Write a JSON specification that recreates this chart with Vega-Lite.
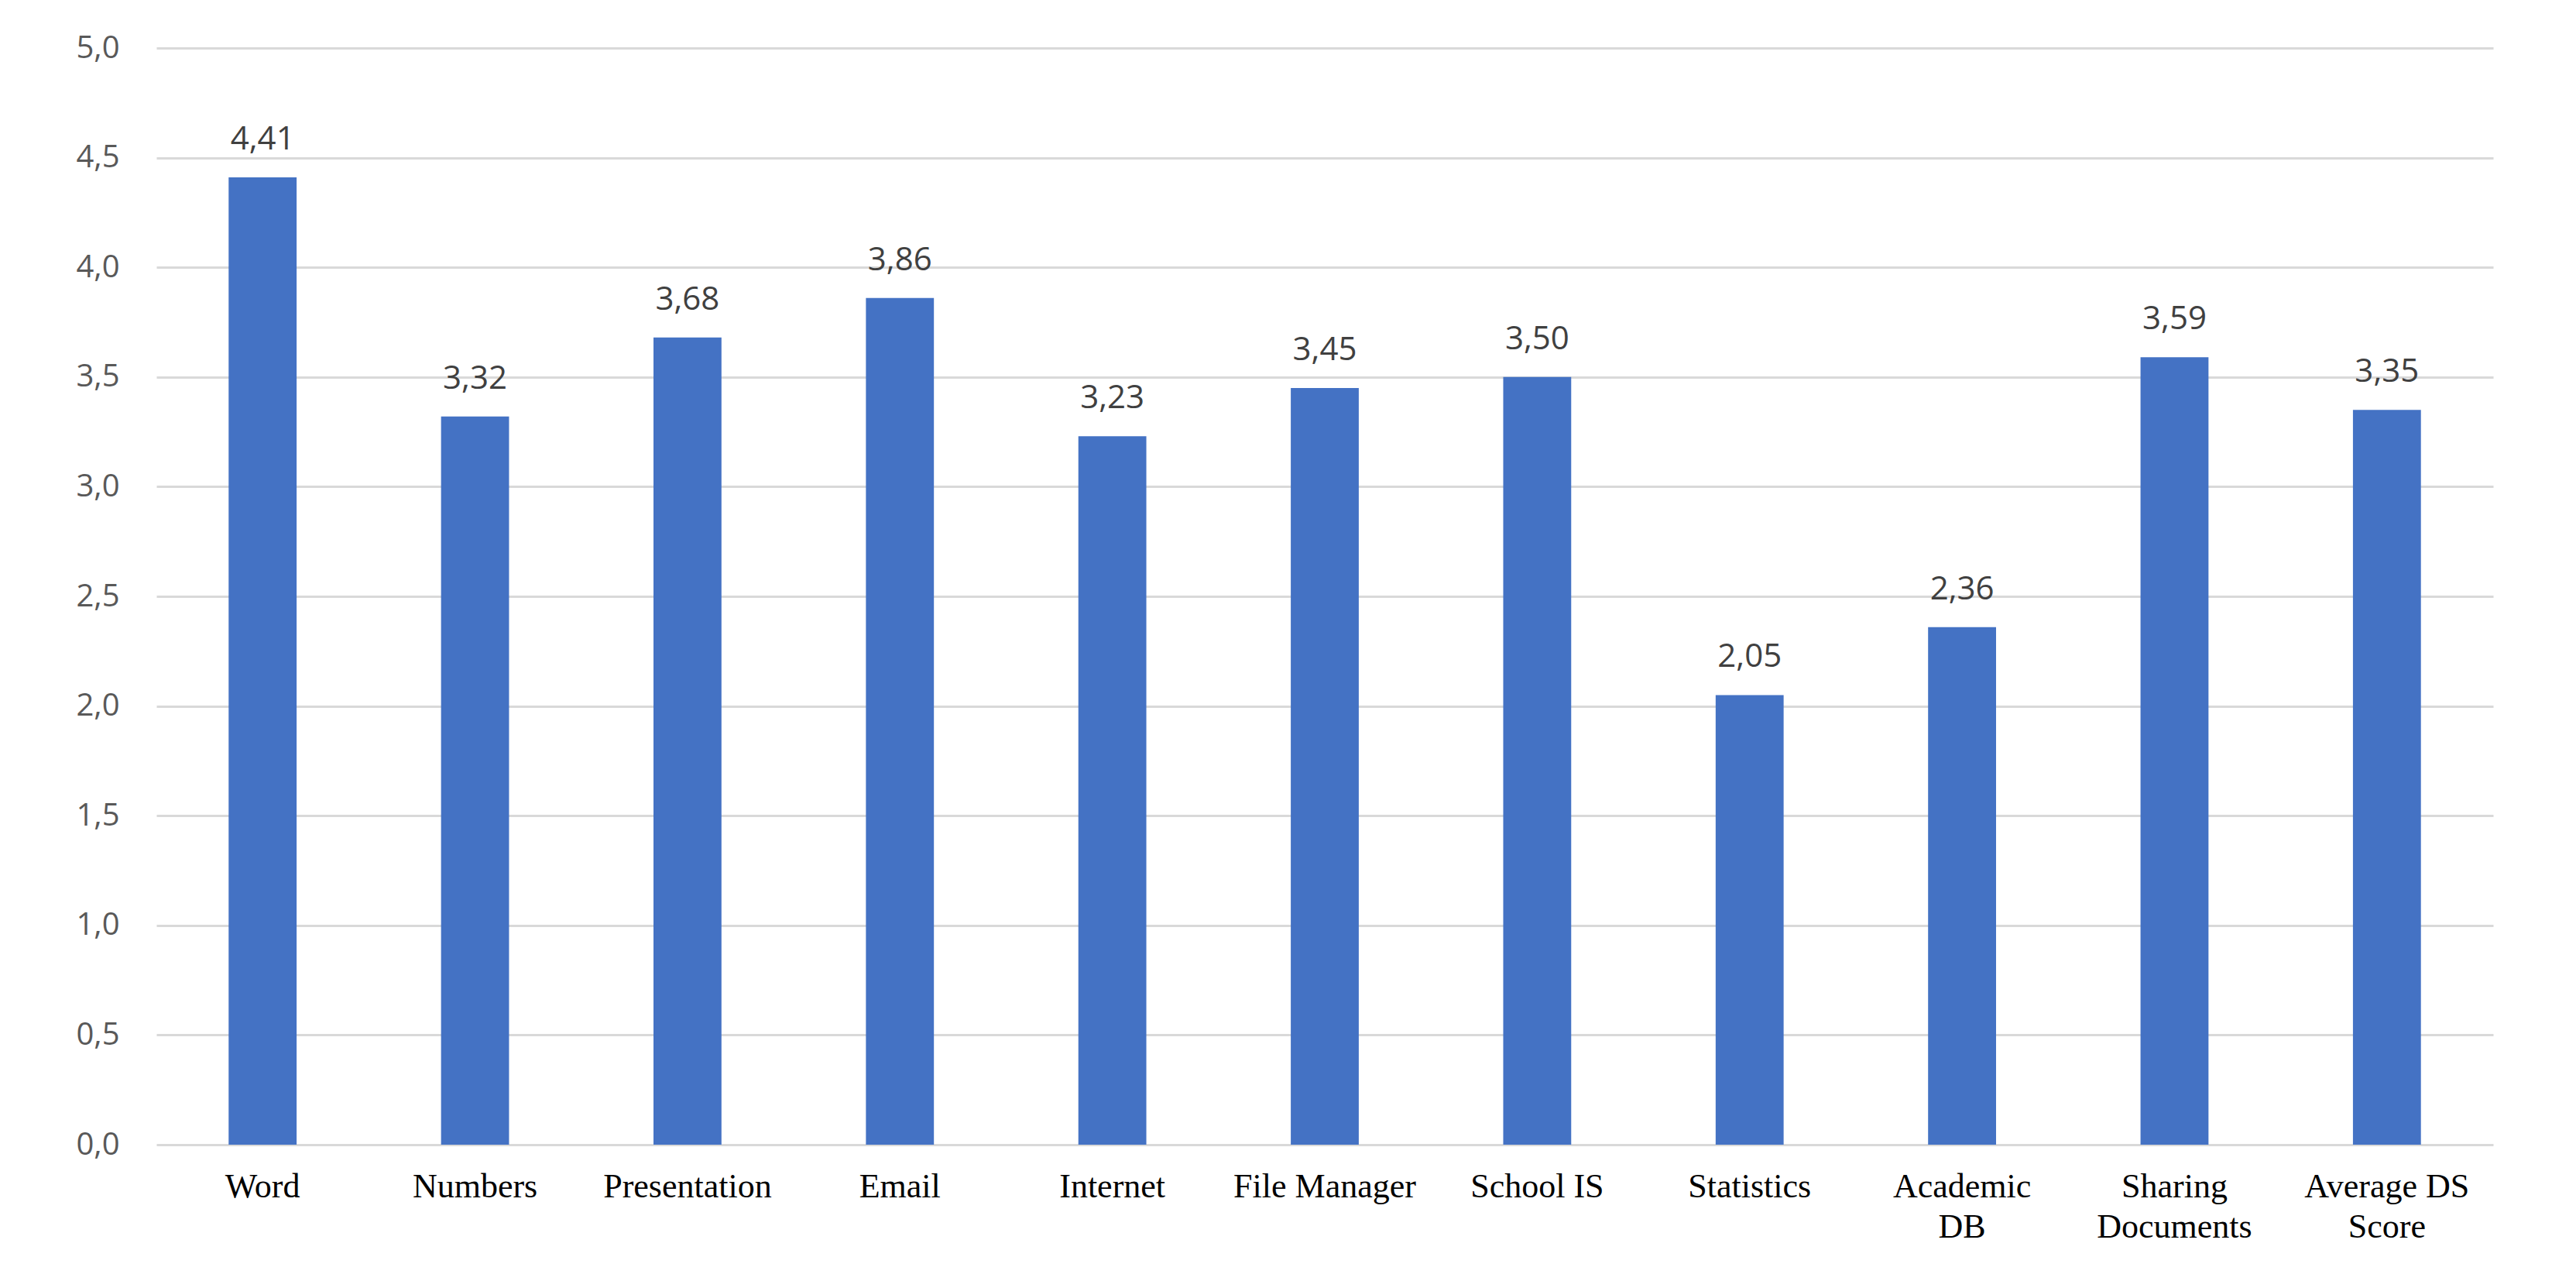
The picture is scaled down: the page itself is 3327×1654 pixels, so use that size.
{
  "$schema": "https://vega.github.io/schema/vega-lite/v6.json",
  "autosize": {"type": "none"},
  "width": 3018,
  "height": 1416,
  "padding": {"left": 202, "top": 62, "right": 107, "bottom": 176},
  "background": "white",
  "config": {
    "view": {"stroke": null},
    "locale": {"number": {"decimal": ",", "thousands": ".", "grouping": [3], "currency": ["", " €"]}}
  },
  "data": {"values": [
    {"category": "Word", "score": 4.41},
    {"category": "Numbers", "score": 3.32},
    {"category": "Presentation", "score": 3.68},
    {"category": "Email", "score": 3.86},
    {"category": "Internet", "score": 3.23},
    {"category": "File Manager", "score": 3.45},
    {"category": "School IS", "score": 3.50},
    {"category": "Statistics", "score": 2.05},
    {"category": "Academic DB", "score": 2.36},
    {"category": "Sharing Documents", "score": 3.59},
    {"category": "Average DS Score", "score": 3.35}
  ]},
  "encoding": {
    "x": {
      "field": "category", "type": "nominal", "sort": null,
      "scale": {"paddingInner": 0.68, "paddingOuter": 0.34},
      "axis": {
        "title": null, "labelAngle": 0, "domain": false, "ticks": false,
        "labelFont": "Liberation Serif", "labelFontSize": 44, "labelColor": "#000000",
        "labelPadding": 32, "labelLineHeight": 52, "labelBaseline": "top", "labelLimit": 0,
        "labelExpr": "datum.label == 'Academic DB' ? ['Academic','DB'] : datum.label == 'Sharing Documents' ? ['Sharing','Documents'] : datum.label == 'Average DS Score' ? ['Average DS','Score'] : datum.label"
      }
    },
    "y": {
      "field": "score", "type": "quantitative",
      "scale": {"domain": [0, 5], "nice": false},
      "axis": {
        "title": null, "values": [0,0.5,1,1.5,2,2.5,3,3.5,4,4.5,5], "format": ".1f",
        "domain": false, "ticks": false, "labelPadding": 48,
        "labelFont": "Open Sans", "labelFontSize": 40, "labelColor": "#595959",
        "gridColor": "#d9d9d9", "gridWidth": 3
      }
    }
  },
  "layer": [
    {"mark": {"type": "bar", "color": "#4472C4"}},
    {
      "mark": {"type": "text", "font": "Open Sans", "fontSize": 42, "color": "#404040", "baseline": "alphabetic", "dy": -36},
      "encoding": {"text": {"field": "score", "type": "quantitative", "format": ".2f"}}
    }
  ]
}
